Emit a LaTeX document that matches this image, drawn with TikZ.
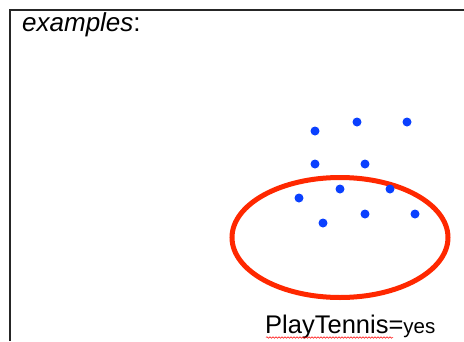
\documentclass[tikz,border=0pt]{standalone}
\usepackage{fontspec}
\setmainfont{Liberation Sans}
\usetikzlibrary{decorations.pathmorphing}
\definecolor{dotblue}{RGB}{10,64,255}
\definecolor{ovalred}{RGB}{255,40,0}
\begin{document}
\begin{tikzpicture}[x=1pt,y=-1pt,
  dot/.style={circle,fill=dotblue,inner sep=0pt,minimum size=9pt},
  frameline/.style={line width=1.4pt,black!85}]
\useasboundingbox (0,0) rectangle (464,341);
\draw[frameline] (10,341) -- (10,10) -- (464,10);
\node[anchor=base west,inner sep=0pt,font=\fontsize{26}{30}\selectfont] (title) at (22,31) {\textit{examples}:};
\draw[ovalred,line width=5pt] (340,237.5) ellipse [x radius=108, y radius=60];
\node[dot] (d1) at (315,131) {};
\node[dot] (d2) at (357,122) {};
\node[dot] (d3) at (407,122) {};
\node[dot] (d4) at (315,164) {};
\node[dot] (d5) at (365,164) {};
\node[dot] (d6) at (340,189) {};
\node[dot] (d7) at (390,189) {};
\node[dot] (d8) at (299,198) {};
\node[dot] (d9) at (365,214) {};
\node[dot] (d10) at (415,214) {};
\node[dot] (d11) at (323,223) {};
\node[anchor=base west,inner sep=0pt] (label) at (265,333) {\fontsize{25.5}{30}\selectfont PlayTennis=\fontsize{20.5}{24}\selectfont yes};
\draw[red,line width=0.5pt,decorate,decoration={snake,amplitude=0.8pt,segment length=3pt}] (266,337.5) -- (393,337.5);
\end{tikzpicture}
\end{document}
